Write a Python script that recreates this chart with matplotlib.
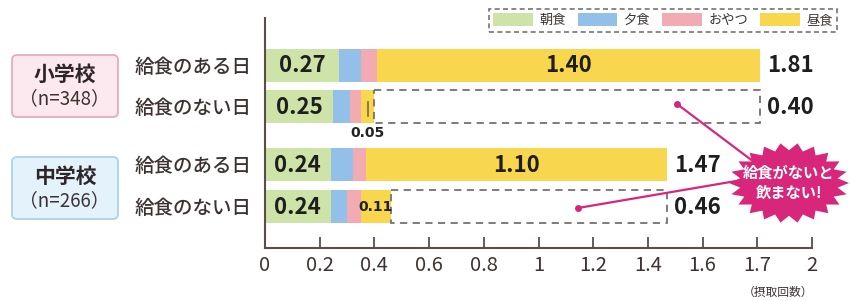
import matplotlib
matplotlib.use("Agg")
import matplotlib.pyplot as plt
from matplotlib.patches import Rectangle, FancyBboxPatch, Polygon, Patch
import numpy as np

plt.rcParams['font.family'] = ['Noto Sans CJK JP', 'DejaVu Sans']

# ---- data ----
row_labels = ["給食のある日", "給食のない日", "給食のある日", "給食のない日"]
series_names = ["朝食", "夕食", "おやつ", "昼食"]
breakfast = [0.27, 0.25, 0.24, 0.24]
dinner = [0.08, 0.06, 0.08, 0.06]
snack = [0.06, 0.04, 0.05, 0.05]
lunch = [1.40, 0.05, 1.10, 0.11]
totals = [1.81, 0.40, 1.47, 0.46]
group_names = ["小学校", "中学校"]
group_n = ["（n=348）", "（n=266）"]
xtick_values = [0, 0.2, 0.4, 0.6, 0.8, 1.0, 1.2, 1.4, 1.6, 1.8, 2.0]
xtick_labels = ["0", "0.2", "0.4", "0.6", "0.8", "1", "1.2", "1.4", "1.6", "1.7", "2"]

# ---- style ----
colors = ["#cde3a8", "#93c0e8", "#f2aab3", "#f8d74e"]
axis_col = "#5b4d47"
W, H = 850, 301
fig = plt.figure(figsize=(W / 100, H / 100), dpi=100)

# layout (pixel rows, top-origin)
row_y = [65, 106, 164, 206]
bar_h = 33
ax_left, ax_right, ax_top, ax_bot = 265, 812, 18, 248
ax = fig.add_axes([ax_left / W, 1 - ax_bot / H, (ax_right - ax_left) / W, (ax_bot - ax_top) / H])
ax.set_xlim(0, 2)
ax.set_ylim(ax_bot, ax_top)
ax.set_facecolor("none")

segs = [breakfast, dinner, snack, lunch]
left = np.zeros(len(row_y))
for vals, c in zip(segs, colors):
    ax.barh(row_y, vals, left=left, height=bar_h, color=c, edgecolor="none", zorder=2)
    left = left + np.array(vals)

num_font = dict(fontsize=16, fontweight="bold", color="#1e1e1e")
# breakfast labels
for i, v in enumerate(breakfast):
    ax.text(v / 2, row_y[i] + 1, f"{v:.2f}", ha="center", va="center", zorder=4, **num_font)
# lunch labels for rows with lunch
for i in (0, 2):
    x0 = breakfast[i] + dinner[i] + snack[i]
    ax.text(x0 + lunch[i] / 2, row_y[i] + 1, f"{lunch[i]:.2f}", ha="center", va="center",
            zorder=4, **num_font)
# small lunch labels
narrow = ["Liberation Sans Narrow", "DejaVu Sans"]
x0 = breakfast[3] + dinner[3] + snack[3]
ax.text(x0 + lunch[3] / 2, row_y[3] + 1, f"{lunch[3]:.2f}", ha="center", va="center",
        fontsize=10, fontweight="bold", color="#222222", zorder=4, family=narrow)
x0 = breakfast[1] + dinner[1] + snack[1]
ax.plot([x0 + lunch[1] / 2] * 2, [row_y[1] - 4, row_y[1] + 10], color="#7a6a40", lw=1.2, zorder=4)
ax.text(x0 + lunch[1] / 2, row_y[1] + 27, f"{lunch[1]:.2f}", ha="center", va="center",
        fontsize=10, fontweight="bold", color="#222222", zorder=4, family=narrow)

# dashed boxes for no-lunch rows
for i_no, i_yes in ((1, 0), (3, 2)):
    ax.add_patch(Rectangle((totals[i_no], row_y[i_no] - bar_h / 2), totals[i_yes] - totals[i_no], bar_h,
                           fill=False, edgecolor="#777070", linestyle=(0, (4, 3)), lw=1.3, zorder=3))

# totals labels
for i_no, i_yes in ((1, 0), (3, 2)):
    ax.text(totals[i_yes] + 0.025, row_y[i_yes] + 1, f"{totals[i_yes]:.2f}", ha="left", va="center",
            **num_font)
    ax.text(totals[i_yes] + 0.025, row_y[i_no] + 1, f"{totals[i_no]:.2f}", ha="left", va="center",
            **num_font)

# axes styling
for s in ("top", "right"):
    ax.spines[s].set_visible(False)
for s in ("left", "bottom"):
    ax.spines[s].set_color(axis_col)
    ax.spines[s].set_linewidth(1.5)
ax.set_xticks(xtick_values)
ax.set_xticklabels(xtick_labels, fontsize=14.5, color="#3c3232")
ax.tick_params(axis="x", direction="in", length=8, width=1.3, color=axis_col, pad=5)
ax.set_yticks(row_y)
ax.set_yticklabels(row_labels, fontsize=14, color="#3c3232", fontweight="medium")
ax.tick_params(axis="y", length=0, pad=10)

# legend
handles = [Patch(facecolor=c, edgecolor="none") for c in colors]
leg = fig.legend(handles, series_names, ncol=4, loc="upper right",
                 bbox_to_anchor=(844 / W, 1 - 2 / H), fontsize=9.5, handlelength=3.0,
                 handleheight=1.1, handletextpad=0.5, columnspacing=0.9,
                 frameon=True, fancybox=False, borderpad=0.35)
fr = leg.get_frame()
fr.set_linestyle((0, (3, 2)))
fr.set_edgecolor("#555050")
fr.set_linewidth(1.2)
for t in leg.get_texts():
    t.set_color("#3c3232")

# overlay in pixel coordinates
ov = fig.add_axes([0, 0, 1, 1], zorder=5)
ov.set_xlim(0, W)
ov.set_ylim(H, 0)
ov.axis("off")
ov.patch.set_alpha(0)

# group boxes
for (yc, name, n, fc, ec) in ((86, group_names[0], group_n[0], "#fce8ef", "#e8a9c0"),
                              (188, group_names[1], group_n[1], "#e4f2fb", "#aad3ec")):
    ov.add_patch(FancyBboxPatch((12, yc - 31), 106, 62, boxstyle="round,pad=0,rounding_size=5",
                                facecolor=fc, edgecolor=ec, lw=1.3))
    ov.text(65, yc - 12, name, ha="center", va="center", fontsize=15, fontweight="bold", color="#2e2626")
    ov.text(64, yc + 13, n, ha="center", va="center", fontsize=13.5, color="#3c3232")

# callout lines
mag = "#d8267a"
star_c = (789, 183)
for (px, py), (sx, sy) in (((677, 104), (762, 168)), ((578, 208), (742, 180))):
    ov.plot([px, sx], [py, sy], color=mag, lw=1.6)
    ov.plot(px, py, "o", color=mag, ms=4)

# starburst
n_sp = 22
ang = np.linspace(0, 2 * np.pi, 2 * n_sp, endpoint=False)
r = np.where(np.arange(2 * n_sp) % 2 == 0, 1.0, 0.82)
xs = star_c[0] + 60 * r * np.cos(ang)
ys = star_c[1] + 40 * r * np.sin(ang)
ov.add_patch(Polygon(np.column_stack([xs, ys]), closed=True, facecolor=mag, edgecolor="none"))
ov.text(star_c[0], star_c[1] - 10, "給食がないと", ha="center", va="center", fontsize=11,
        fontweight="bold", color="white")
ov.text(star_c[0], star_c[1] + 10, "飲まない!", ha="center", va="center", fontsize=11,
        fontweight="bold", color="white")

ov.text(778, 292, "（摂取回数）", ha="center", va="center", fontsize=8.5, color="#3c3232")

fig.savefig("out.png", dpi=100)
